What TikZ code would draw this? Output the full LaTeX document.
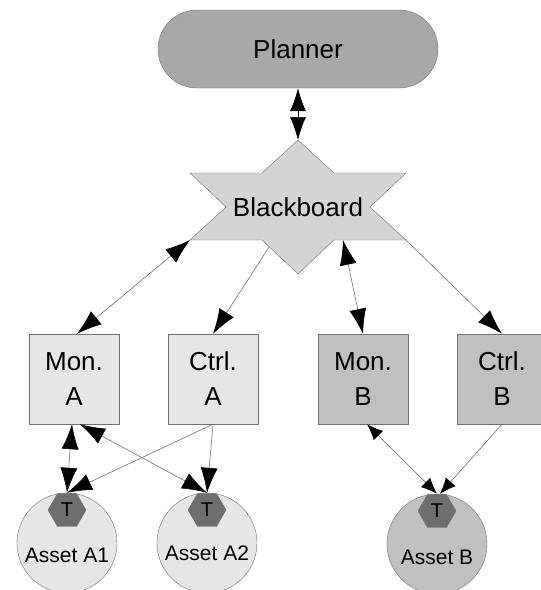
\documentclass[tikz,border=0pt]{standalone}
\usepackage{fontspec}
\setmainfont{Liberation Sans}
\usetikzlibrary{arrows.meta,shapes.geometric,positioning,calc}
\definecolor{planfill}{HTML}{A8A8A8}
\definecolor{bbfill}{HTML}{D4D4D4}
\definecolor{afill}{HTML}{E6E6E6}
\definecolor{bfill}{HTML}{C0C0C0}
\definecolor{tfill}{HTML}{6E6E6E}
\definecolor{edge}{HTML}{707070}

\begin{document}
\begin{tikzpicture}[x=1pt,y=-1pt,
  big/.style={font=\fontsize{26}{35}\selectfont},
  box/.style={big,draw=edge,fill=#1,minimum size=90pt,inner sep=0pt,align=center},
  asset/.style={circle,draw=edge,fill=#1,minimum size=100pt,inner sep=0pt},
  tag/.style={regular polygon,regular polygon sides=6,draw=edge,fill=tfill,minimum size=38pt,inner sep=0pt,font=\fontsize{20}{22}\selectfont},
  lbl/.style={font=\fontsize{21}{24}\selectfont},
  link/.style={draw=edge,line width=0.6pt},
  one/.style={link,arrows={-Latex[length=25pt,width=17pt,color=black]}},
  two/.style={link,arrows={Latex[length=25pt,width=17pt,color=black]-Latex[length=25pt,width=17pt,color=black]}},
  small/.style={link,arrows={-Latex[length=16pt,width=13pt,color=black]}},
  smalltwo/.style={link,arrows={Latex[length=16pt,width=13pt,color=black]-Latex[length=16pt,width=13pt,color=black]}}]
\useasboundingbox (0,0) rectangle (541,590);
\clip (0,0) rectangle (541,590);

% planner
\node[big,draw=edge,fill=planfill,minimum width=280pt,minimum height=78pt,rounded corners=39pt] (planner) at (298,49) {Planner};

% blackboard star
\coordinate (bbN) at (298,140);
\coordinate (bbiNE) at (334,173);
\coordinate (bbNE) at (406,173);
\coordinate (bbiE) at (370,207);
\coordinate (bbSE) at (406,240);
\coordinate (bbiSE) at (334,240);
\coordinate (bbS) at (298,274);
\coordinate (bbiSW) at (262,240);
\coordinate (bbSW) at (190,240);
\coordinate (bbiW) at (226,207);
\coordinate (bbNW) at (190,173);
\coordinate (bbiNW) at (262,173);
\draw[draw=edge,fill=bbfill] (bbN) -- (bbiNE) -- (bbNE) -- (bbiE) -- (bbSE) -- (bbiSE) -- (bbS)
  -- (bbiSW) -- (bbSW) -- (bbiW) -- (bbNW) -- (bbiNW) -- cycle;
\node[big] (bb) at (298,207) {Blackboard};

% monitors and controllers
\node[box=afill] (monA) at (74,379) {Mon.\\A};
\node[box=afill] (ctrlA) at (213,379) {Ctrl.\\A};
\node[box=bfill] (monB) at (363,379) {Mon.\\B};
\node[box=bfill] (ctrlB) at (502,379) {Ctrl.\\B};

% assets
\node[asset=afill] (a1) at (67,543) {};
\node[asset=afill] (a2) at (207,543) {};
\node[asset=bfill] (b1) at (437,544) {};
\node[tag] (t1) at (67,510) {T};
\node[tag] (t2) at (207,510) {T};
\node[tag] (t3) at (437,511) {T};
\node[lbl] (a1l) at ($(a1)+(0,12)$) {Asset A1};
\node[lbl] (a2l) at ($(a2)+(0,10)$) {Asset A2};
\node[lbl] (b1l) at ($(b1)+(0,13)$) {Asset B};

% connectors
\draw[arrows={Latex[length=23pt,width=16pt]-Latex[length=23pt,width=16pt]},line width=0.6pt] (planner.south) -- (bbN);
\draw[two] (bbSW) -- ([xshift=3pt]monA.north);
\draw[one] ($(bbiSW)!0.2!(bbS)$) -- (ctrlA.north);
\draw[two] ($(bbiSE)!0.125!(bbSE)$) -- (monB.north);
\draw[one] (bbSE) -- (ctrlB.north);
\draw[two] ([xshift=-2pt]monA.south) -- (a1.north);
\draw[two] ([xshift=6pt]monA.south) -- (a2.north);
\draw[one] (ctrlA.south) -- (a1.north);
\draw[one] (ctrlA.south) -- (a2.north);
\draw[smalltwo] ([xshift=4pt]monB.south) -- (b1.north);
\draw[small] (ctrlB.south) -- ([xshift=3pt]b1.north);
\end{tikzpicture}
\end{document}
